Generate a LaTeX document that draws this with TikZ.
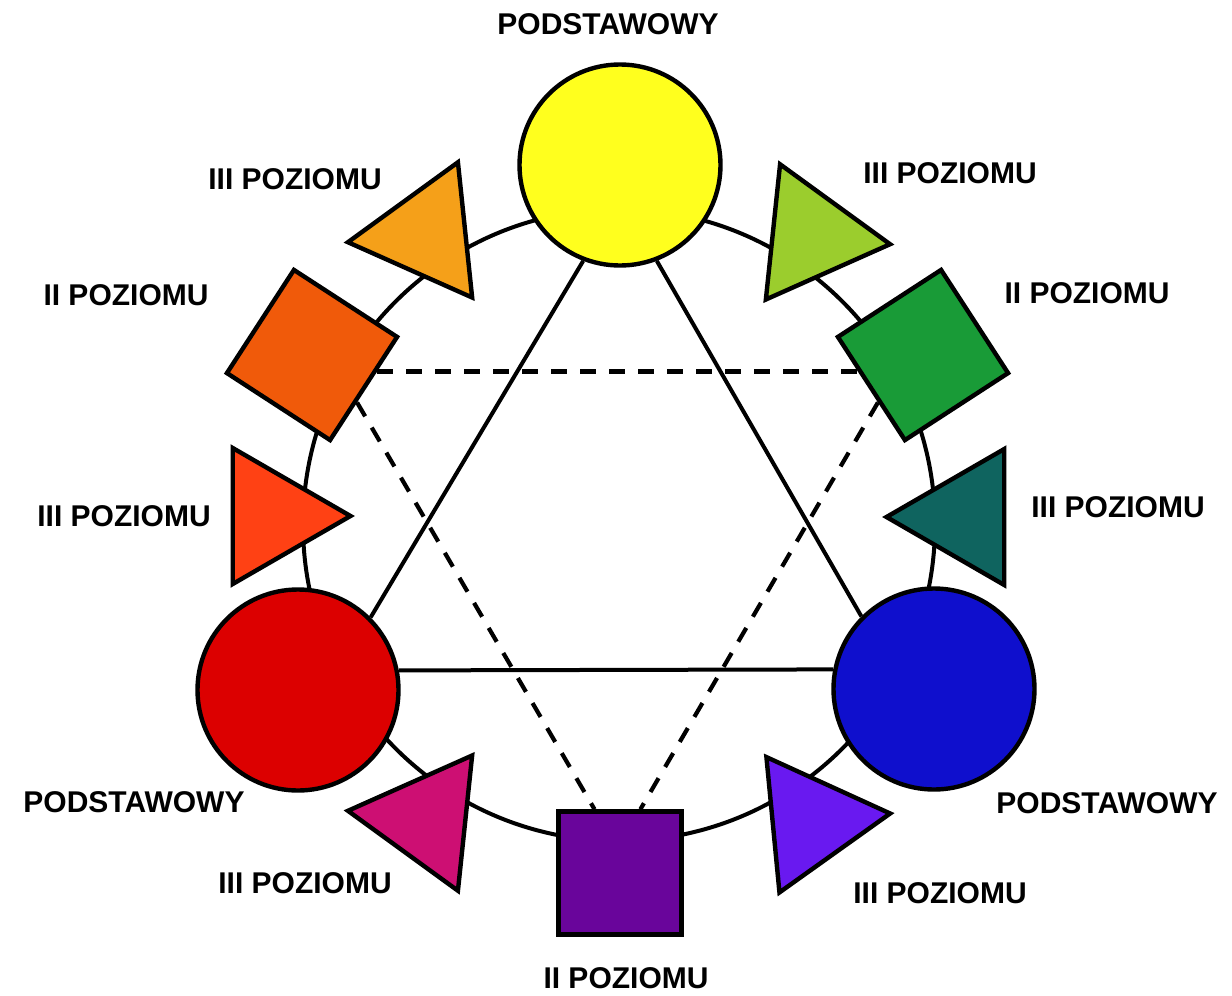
\documentclass[tikz,border=0pt]{standalone}
\usepackage{fontspec}
\setmainfont{Liberation Sans}
\usetikzlibrary{shapes.geometric,backgrounds,calc}

\definecolor{cyel}{RGB}{255,255,30}
\definecolor{cyo}{RGB}{245,160,25}
\definecolor{corg}{RGB}{240,90,10}
\definecolor{cro}{RGB}{255,65,20}
\definecolor{cred}{RGB}{220,0,0}
\definecolor{crv}{RGB}{205,15,115}
\definecolor{cvio}{RGB}{105,5,155}
\definecolor{cbv}{RGB}{105,25,240}
\definecolor{cblu}{RGB}{15,15,205}
\definecolor{cbg}{RGB}{15,100,95}
\definecolor{cgrn}{RGB}{25,155,55}
\definecolor{cyg}{RGB}{155,205,45}

\begin{document}
\begin{tikzpicture}[
  x=0.5pt, y=-0.5pt,
  font=\fontsize{15}{18}\selectfont\bfseries,
  prim/.style ={draw, circle, line width=2.2pt, minimum size=100.5pt, inner sep=0pt},
  sec/.style  ={draw, rectangle, line width=2.2pt, minimum size=61.5pt, inner sep=0pt},
  tert/.style ={draw, regular polygon, regular polygon sides=3, line width=2.2pt,
                minimum size=78.5pt, inner sep=0pt},
  lbl/.style  ={inner sep=0pt},
  link/.style ={line width=2pt},
  dlink/.style={line width=2.1pt, dash pattern=on 8pt off 6.5pt}
]
\useasboundingbox (0,0) rectangle (1232,996);
\coordinate (ring) at (619,525);

% --- primary colours ---
\node[prim, fill=cyel] (yel) at (620,165) {};
\node[prim, fill=cred] (red) at (298,690) {};
\node[prim, fill=cblu] (blu) at (934,689) {};

% --- secondary colours ---
\node[sec, fill=corg, rotate=-33] (org) at (312,355) {};
\node[sec, fill=cgrn, rotate=33]  (grn) at (923,355) {};
\node[sec, fill=cvio]             (vio) at (620,873) {};

% --- tertiary colours ---
\node[tert, fill=cyo, rotate=96]    (yo) at (426,234) {};
\node[tert, fill=cyg, rotate=-96]   (yg) at (812,236) {};
\node[tert, fill=cro, rotate=-90]   (ro) at (272,516) {};
\node[tert, fill=cbg, rotate=90]    (bg) at (965,517) {};
\node[tert, fill=crv, rotate=84]    (rv) at (426,819) {};
\node[tert, fill=cbv, rotate=-84.5] (bv) at (812,821) {};

% --- labels ---
\node[lbl] (lyel) at (608,24)   {PODSTAWOWY};
\node[lbl] (lred) at (134,802)  {PODSTAWOWY};
\node[lbl] (lblu) at (1107,803) {PODSTAWOWY};
\node[lbl] (lorg) at (126,295)  {II POZIOMU};
\node[lbl] (lgrn) at (1087,293) {II POZIOMU};
\node[lbl] (lvio) at (626,978)  {II POZIOMU};
\node[lbl] (lyo)  at (295,179)  {III POZIOMU};
\node[lbl] (lyg)  at (950,173)  {III POZIOMU};
\node[lbl] (lro)  at (124,516)  {III POZIOMU};
\node[lbl] (lbg)  at (1118,507) {III POZIOMU};
\node[lbl] (lrv)  at (305,883)  {III POZIOMU};
\node[lbl] (lbv)  at (940,893)  {III POZIOMU};

% --- wheel and triangles behind the shapes ---
\begin{scope}[on background layer]
  \draw[link] (ring) circle[radius=158pt];
  \draw[link] (yel.-111) -- (red.45);
  \draw[link] (yel.-69)  -- (blu.135);
  \draw[link] (red.11)   -- (blu.169);
  \draw[dlink] ($(org.north east)!0.33!(org.south east)$) -- ($(grn.north west)!0.33!(grn.south west)$);
  \draw[dlink] ($(org.north east)!0.62!(org.south east)$) -- ($(vio.north west)!0.3!(vio.north east)$);
  \draw[dlink] ($(grn.north west)!0.62!(grn.south west)$) -- ($(vio.north west)!0.66!(vio.north east)$);
\end{scope}

\end{tikzpicture}
\end{document}
